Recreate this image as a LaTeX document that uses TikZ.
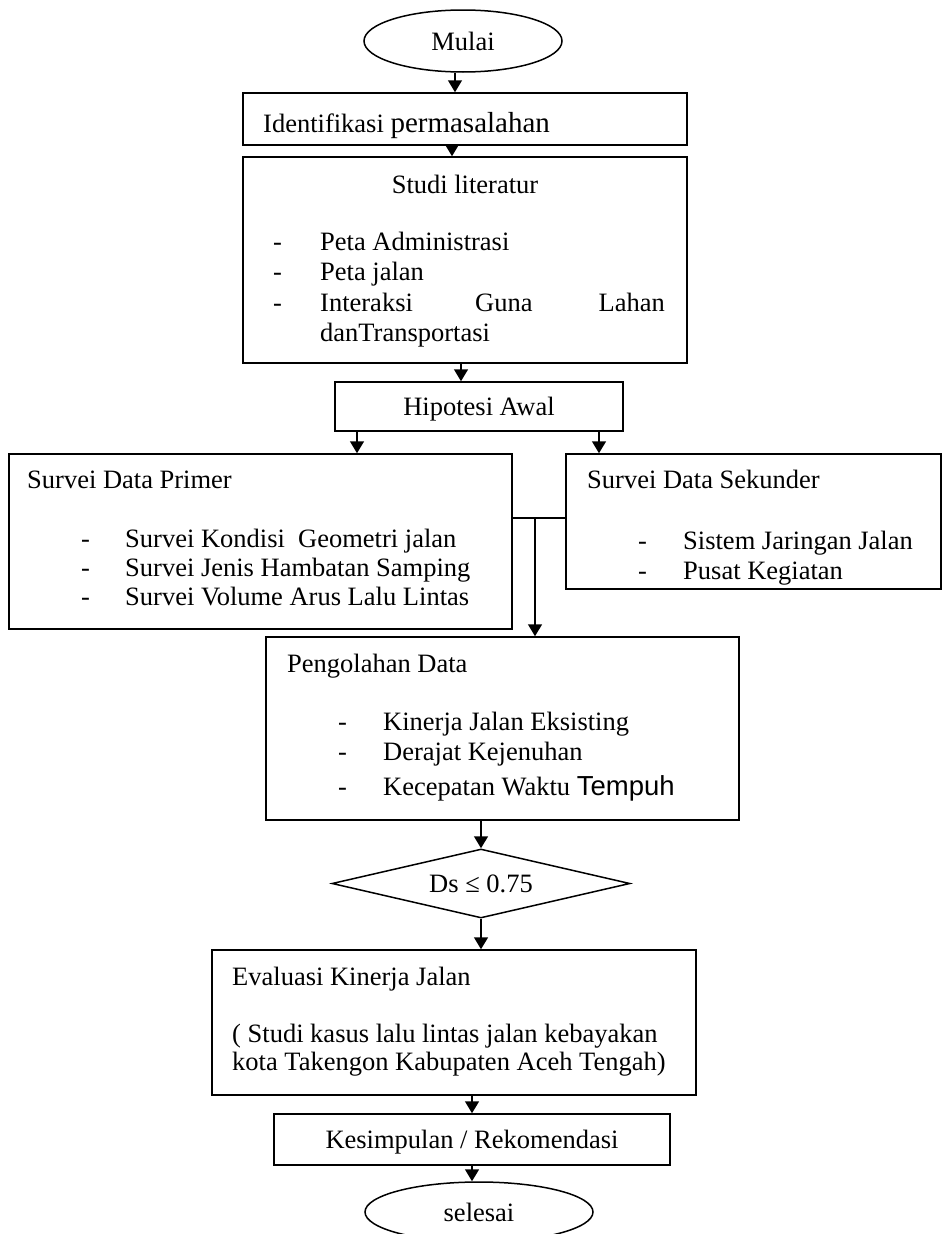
\documentclass[tikz,border=0pt]{standalone}
\usepackage{fontspec}
\setmainfont{Liberation Serif}
\newfontfamily\arialfont{Liberation Sans}
\usetikzlibrary{shapes.geometric,arrows.meta}

\tikzstyle{box} = [draw, rectangle, line width=1.5pt, inner sep=0pt, text depth=0pt]
\tikzstyle{term} = [draw, ellipse, line width=1.5pt, inner sep=0pt, text depth=0pt]
\tikzstyle{decide} = [draw, diamond, aspect=4.3, line width=1.5pt, inner sep=0pt, text depth=0pt]
\tikzstyle{line} = [draw, line width=1.5pt]
\tikzstyle{arrow} = [draw, line width=1.5pt, -{Triangle[length=12pt,width=14pt]}]
\tikzstyle{txt} = [anchor=base west, inner sep=0pt]
\tikzstyle{ctxt} = [anchor=base, inner sep=0pt]

\begin{document}
\begin{tikzpicture}[x=1pt,y=-1pt,font=\fontsize{26.5}{30}\selectfont]
	\useasboundingbox (0,0) rectangle (943,1234);
	% boxes
	\node (mulai) at (463,41) [term, minimum width=198pt, minimum height=62pt] {Mulai};
	\node (ident) at (465,119) [box, minimum width=444pt, minimum height=52pt] {};
	\node (studi) at (465,260) [box, minimum width=444pt, minimum height=206pt] {};
	\node (hipo) at (479,406.5) [box, minimum width=288pt, minimum height=49pt] {Hipotesi Awal};
	\node (primer) at (260.5,541.5) [box, minimum width=503pt, minimum height=175pt] {};
	\node (sekunder) at (753.5,521.5) [box, minimum width=375pt, minimum height=135pt] {};
	\node (olah) at (502.5,728.5) [box, minimum width=473pt, minimum height=183pt] {};
	\node (ds) at (481,883.5) [decide, minimum width=298pt, minimum height=69pt] {Ds ≤ 0.75};
	\node (eval) at (454,1022.5) [box, minimum width=484pt, minimum height=145pt] {};
	\node (simpul) at (472,1139.5) [box, minimum width=396pt, minimum height=51pt] {Kesimpulan / Rekomendasi};
	\node (selesai) at (479,1212) [term, minimum width=228pt, minimum height=60pt] {selesai};

	% texts
	\node (identT) at (263,132) [txt] {Identifikasi {\fontsize{29}{33}\selectfont permasalahan}};
	\node (studiT) at (465,193) [ctxt] {Studi literatur};
	\node (sd1) at (273,250) [txt] {-};
	\node (sd2) at (273,280) [txt] {-};
	\node (sd3) at (273,311) [txt] {-};
	\node (st1) at (320,250) [txt] {Peta Administrasi};
	\node (st2) at (320,280) [txt] {Peta jalan};
	\node (st3a) at (320,311) [txt] {Interaksi};
	\node (st3b) at (475,311) [txt] {Guna};
	\node (st3c) at (665,311) [anchor=base east, inner sep=0pt] {Lahan};
	\node (st4) at (320,341) [txt] {danTransportasi};

	\node (primerT) at (27,488) [txt] {Survei Data Primer};
	\node (pd1) at (81,547) [txt] {-};
	\node (pd2) at (81,576) [txt] {-};
	\node (pd3) at (81,605) [txt] {-};
	\node (pt1) at (125,547) [txt] {Survei Kondisi\ \ Geometri jalan};
	\node (pt2) at (125,576) [txt] {Survei Jenis Hambatan Samping};
	\node (pt3) at (125,605) [txt] {Survei Volume Arus Lalu Lintas};

	\node (sekunderT) at (587,488) [txt] {Survei Data Sekunder};
	\node (kd1) at (638,549) [txt] {-};
	\node (kd2) at (638,579) [txt] {-};
	\node (kt1) at (683,549) [txt] {Sistem Jaringan Jalan};
	\node (kt2) at (683,579) [txt] {Pusat Kegiatan};

	\node (olahT) at (287,672) [txt] {Pengolahan Data};
	\node (od1) at (338,730) [txt] {-};
	\node (od2) at (338,760) [txt] {-};
	\node (od3) at (338,795) [txt] {-};
	\node (ot1) at (383,730) [txt] {Kinerja Jalan Eksisting};
	\node (ot2) at (383,760) [txt] {Derajat Kejenuhan};
	\node (ot3) at (383,795) [txt] {Kecepatan Waktu {\arialfont\fontsize{27.5}{31}\selectfont Tempuh}};

	\node (evalT) at (232,985) [txt] {Evaluasi Kinerja Jalan};
	\node (et1) at (232,1042) [txt] {( Studi kasus lalu lintas jalan kebayakan};
	\node (et2) at (232,1070) [txt] {kota Takengon Kabupaten Aceh Tengah)};

	% connectors
	\coordinate (join) at (535,518);
	\path[arrow] ([xshift=-8pt]mulai.south) -- ([xshift=-8pt]mulai.south |- ident.north);
	\path[arrow] ([xshift=-13pt]ident.south) -- ([xshift=-13pt]ident.south |- studi.north);
	\path[arrow] ([xshift=-4pt]studi.south) -- ([xshift=-4pt]studi.south |- hipo.north);
	\path[arrow] ([xshift=-122pt]hipo.south) -- ([xshift=-122pt]hipo.south |- primer.north);
	\path[arrow] ([xshift=120pt]hipo.south) -- ([xshift=120pt]hipo.south |- sekunder.north);
	\path[line] (join -| primer.east) -- (join -| sekunder.west);
	\path[arrow] (join) -- (join |- olah.north);
	\path[arrow] (ds.north |- olah.south) -- (ds.north);
	\path[arrow] (ds.south) -- (ds.south |- eval.north);
	\path[arrow] (simpul.north |- eval.south) -- (simpul.north);
	\path[arrow] (simpul.south) -- (simpul.south |- selesai.north);
\end{tikzpicture}
\end{document}
